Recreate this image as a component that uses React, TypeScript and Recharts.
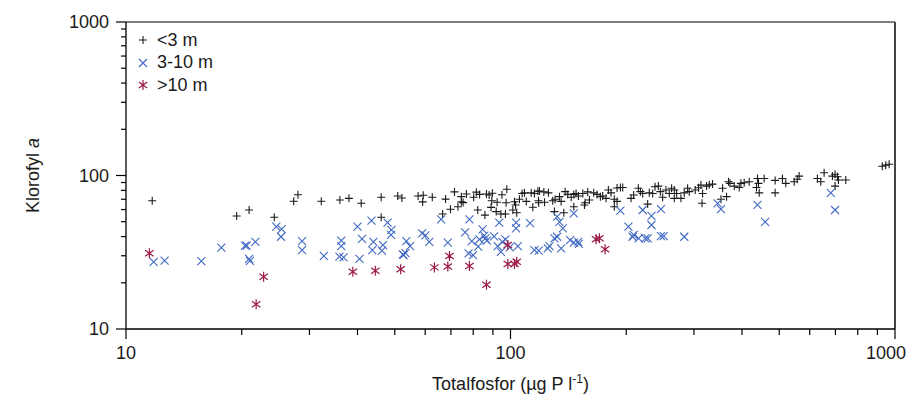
import { ScatterChart, Scatter, XAxis, YAxis, ReferenceLine, Label } from 'recharts';

// <3 m (black plus)
const shallowTP = [
    11.7, 19.4, 20.9, 24.3, 27.3, 28.0, 32.2, 36.0, 38.0, 40.9, 46.1, 46.1, 50.9, 52.2, 57.5, 59.3, 59.1, 62.6,
    67.8, 66.6, 69.8, 73.0, 71.5, 74.5, 74.5, 76.8, 75.3, 80.2, 81.5, 83.1, 86.6, 88.0, 89.7, 89.4, 92.3, 95.0,
    97.4, 97.8, 82.2, 85.8, 89.0, 91.8, 94.4, 97.0, 101.4, 103.1, 103.8, 102.4, 105.5, 107.2, 109.9, 108.7, 113.2,
    115.4, 117.8, 118.4, 114.3, 118.9, 122.1, 125.5, 118.2, 122.6, 128.8, 130.6, 134.1, 135.4, 138.7, 140.9, 143.8,
    146.1, 148.1, 150.2, 154.2, 156.3, 158.8, 160.4, 164.6, 167.9, 171.3, 173.7, 177.2, 179.7, 182.6, 189.3, 193.1,
    195.8, 186.2, 189.3, 186.2, 130.1, 137.6, 146.1, 155.7, 205.8, 209.1, 215.0, 217.7, 220.7, 227.4, 229.6, 234.3,
    237.6, 242.4, 245.3, 248.7, 253.7, 258.8, 262.4, 266.7, 270.4, 277.5, 266.7, 283.1, 288.8, 291.7, 302.3, 308.4,
    312.8, 315.9, 323.6, 328.8, 335.3, 314.8, 356.1, 369.0, 372.1, 381.9, 393.4, 397.4, 405.3, 417.7, 438.9, 441.6,
    436.3, 443.5, 456.8, 487.8, 487.8, 509.7, 520.0, 546.7, 563.2, 557.0, 364.7, 352.6, 628.3, 641.2, 654.1, 687.5,
    698.4, 708.5, 712.6, 744.7, 698.4, 926.8, 946.0, 965.6,
];
const shallowChl = [
    68.5, 54.5, 59.6, 53.4, 67.9, 75.0, 67.9, 69.2, 71.0, 65.9, 72.1, 53.4, 73.5, 71.3, 73.5, 74.4, 67.3, 72.1,
    70.2, 56.1, 60.3, 62.6, 78.2, 72.8, 67.5, 75.7, 66.6, 72.1, 77.9, 75.3, 75.8, 74.7, 76.7, 68.5, 67.0, 75.0,
    66.5, 81.3, 59.6, 55.2, 62.0, 58.2, 56.1, 56.1, 59.6, 64.3, 57.2, 67.4, 70.1, 76.4, 67.8, 77.1, 77.1,
    76.4, 78.9, 66.4, 62.1, 79.3, 78.2, 77.1, 68.5, 67.0, 68.5, 70.1, 72.8, 67.8, 78.5, 75.3, 72.1,
    75.3, 76.4, 73.5, 76.4, 66.4, 78.2, 69.2, 77.1, 75.3, 72.8, 73.5, 71.0, 80.5, 77.1, 82.9, 83.6,
    83.6, 70.1, 67.8, 62.6, 58.2, 57.2, 62.6, 64.3, 71.0, 74.6, 82.6, 78.5, 76.4, 65.1, 77.1, 76.4,
    84.4, 85.3, 78.5, 72.1, 80.5, 76.4, 82.6, 80.5, 76.4, 71.0, 71.0, 77.1, 82.6, 78.5, 80.5, 83.2,
    86.6, 76.4, 85.3, 86.9, 87.9, 65.9, 82.6, 91.0, 88.9, 85.3, 83.6, 88.9, 89.6, 91.0, 95.6, 88.9,
    83.6, 77.1, 95.6, 92.9, 77.1, 95.6, 88.9, 91.0, 99.1, 94.5, 72.8, 70.1, 95.6, 91.0, 104.1, 99.1,
    101.9, 98.1, 93.5, 93.5, 85.3, 115.0, 116.8, 118.5,
];

// 3-10 m (blue cross)
const midTP = [
    11.8, 12.6, 15.7, 17.7, 20.4, 20.6, 21.7, 20.9, 21.0, 24.6, 25.4, 25.3, 28.7, 28.7, 32.7, 36.3, 36.3, 35.9,
    36.8, 40.0, 41.1, 40.5, 43.5, 44.0, 43.7, 46.6, 46.3, 47.9, 49.0, 48.9, 52.5, 66.0, 78.2, 53.6, 54.8, 52.7,
    53.3, 58.9, 60.1, 61.5, 68.7, 76.2, 79.3, 77.8, 79.9, 83.0, 84.6, 86.0, 86.8, 82.4, 85.5, 90.6, 93.5, 92.6,
    95.3, 94.4, 97.0, 99.5, 104.5, 103.4, 103.4, 112.4, 115.4, 118.4, 146.1, 132.2, 134.1, 136.8, 130.1, 132.2,
    126.3, 125.0, 135.4, 142.9, 146.1, 149.9, 150.6, 193.1, 202.6, 209.1, 207.8, 215.4, 224.2, 227.4, 246.2, 250.3,
    220.7, 232.6, 232.6, 246.2, 283.1, 345.6, 352.6, 438.9, 459.5, 680.8, 698.4,
];
const midChl = [
    27.4, 27.9, 27.7, 33.9, 34.9, 34.9, 36.9, 28.6, 27.8, 46.4, 44.7, 39.9, 37.4, 32.7, 29.9, 37.6, 34.7, 29.6,
    29.3, 46.4, 38.6, 28.6, 50.8, 36.9, 32.7, 35.2, 32.4, 49.3, 44.3, 41.0, 30.6, 51.8, 51.8, 37.4, 34.7, 30.3,
    31.2, 42.0, 40.7, 37.0, 36.5, 42.6, 37.4, 31.1, 30.3, 38.4, 44.6, 39.0, 37.6, 34.4, 40.6, 40.1, 49.3, 34.7,
    37.0, 31.8, 38.4, 34.0, 34.7, 49.3, 45.3, 48.9, 32.7, 32.4, 56.7, 54.0, 49.9, 45.3, 39.0, 39.9,
    34.7, 33.5, 33.5, 37.9, 36.5, 37.0, 35.8, 59.0, 46.4, 41.0, 39.9, 39.0, 39.0, 39.0, 40.3, 40.3,
    59.6, 54.5, 47.6, 60.3, 39.9, 65.9, 60.3, 64.3, 49.9, 77.1, 59.6,
];

// >10 m (red asterisk)
const deepTP = [11.5, 22.8, 21.8, 38.9, 44.5, 51.8, 63.4, 68.7, 69.4, 78.2, 86.6, 98.4, 98.4, 102.4, 103.8, 166.9, 170.3, 176.2];
const deepChl = [31.1, 21.9, 14.5, 23.6, 24.0, 24.5, 25.2, 25.5, 29.9, 25.7, 19.4, 35.2, 26.5, 26.5, 27.4, 38.4, 39.0, 33.1];

const logTicks = [10, 20, 30, 40, 50, 60, 70, 80, 90, 100, 200, 300, 400, 500, 600, 700, 800, 900, 1000];
const majorTicks = [10, 100, 1000];

const FONT = '"Liberation Sans", Arial, sans-serif';
const BLACK = '#1a1a1a';
const BLUE = '#4169c4';
const RED = '#9c1848';

const toPoints = (tp: number[], chl: number[]) => tp.map((x, i) => ({ tp: x, chl: chl[i] }));

function PlusMark({ cx, cy }: any) {
    return <path d={`M${cx - 4},${cy}H${cx + 4}M${cx},${cy - 4}V${cy + 4}`} stroke={BLACK} strokeWidth={1.1} fill="none" />;
}

function CrossMark({ cx, cy }: any) {
    return <path d={`M${cx - 4},${cy - 4}L${cx + 4},${cy + 4}M${cx - 4},${cy + 4}L${cx + 4},${cy - 4}`} stroke={BLUE} strokeWidth={1.1} fill="none" />;
}

function StarMark({ cx, cy }: any) {
    return (
        <path
            d={`M${cx},${cy - 5}V${cy + 5}M${cx - 4.2},${cy - 3}L${cx + 4.2},${cy + 3}M${cx - 4.2},${cy + 3}L${cx + 4.2},${cy - 3}`}
            stroke={RED} strokeWidth={1.2} fill="none"
        />
    );
}

function XTick({ x, y, payload }: any) {
    const major = majorTicks.includes(payload.value);
    // the last label is pulled in so it stays inside the page
    const last = payload.value === 1000;
    return (
        <g>
            <line x1={x} x2={x} y1={y} y2={y + (major ? 10 : 6)} stroke="#000" strokeWidth={1.2} />
            {major && (
                <text x={last ? x + 11 : x} y={y + 30} textAnchor={last ? 'end' : 'middle'} fontSize={18} fontFamily={FONT} fill={BLACK}>
                    {payload.value}
                </text>
            )}
        </g>
    );
}

function YTick({ x, y, payload }: any) {
    const major = majorTicks.includes(payload.value);
    return (
        <g>
            <line x1={x} x2={x - (major ? 10 : 5)} y1={y} y2={y} stroke="#000" strokeWidth={1.2} />
            {major && (
                <text x={x - 17} y={y} dy="0.35em" textAnchor="end" fontSize={18} fontFamily={FONT} fill={BLACK}>
                    {payload.value}
                </text>
            )}
        </g>
    );
}

const legendRows = [
    { label: '<3 m', Mark: PlusMark },
    { label: '3-10 m', Mark: CrossMark },
    { label: '>10 m', Mark: StarMark },
];

export default function App() {
    return (
        <div style={{ position: 'relative', width: 914, height: 403, margin: '-8px 0 0 -8px' }}>
            <ScatterChart width={914} height={403} margin={{ top: 22, right: 19, bottom: 0, left: 0 }}>
                <XAxis
                    type="number"
                    dataKey="tp"
                    scale="log"
                    domain={[10, 1000]}
                    ticks={logTicks}
                    interval={0}
                    allowDataOverflow
                    height={74}
                    tickSize={0}
                    tickMargin={0}
                    tick={<XTick />}
                    axisLine={{ stroke: '#000', strokeWidth: 1.3 }}
                >
                    <Label
                        content={({ viewBox }: any) => (
                            <text x={viewBox.x + viewBox.width / 2} y={viewBox.y + 61} textAnchor="middle" fontSize={18} fontFamily={FONT} fill={BLACK}>
                                Totalfosfor (µg P l<tspan dy={-7} fontSize={12}>-1</tspan><tspan dy={7}>)</tspan>
                            </text>
                        )}
                    />
                </XAxis>
                <YAxis
                    type="number"
                    dataKey="chl"
                    scale="log"
                    domain={[10, 1000]}
                    ticks={logTicks}
                    interval={0}
                    allowDataOverflow
                    width={126}
                    tickSize={0}
                    tickMargin={0}
                    tick={<YTick />}
                    axisLine={{ stroke: '#000', strokeWidth: 1.3 }}
                >
                    <Label
                        content={({ viewBox }: any) => {
                            const cx = viewBox.x + 33;
                            const cy = viewBox.y + viewBox.height / 2;
                            return (
                                <text x={cx} y={cy} dy="0.35em" transform={`rotate(-90 ${cx} ${cy})`} textAnchor="middle" fontSize={18} fontFamily={FONT} fill={BLACK}>
                                    Klorofyl <tspan fontStyle="italic">a</tspan>
                                </text>
                            );
                        }}
                    />
                </YAxis>
                <ReferenceLine y={1000} stroke="#000" strokeWidth={1.2} ifOverflow="extendDomain" />
                <ReferenceLine x={1000} stroke="#444" strokeWidth={2} ifOverflow="extendDomain" />
                <Scatter data={toPoints(shallowTP, shallowChl)} shape={PlusMark} isAnimationActive={false} />
                <Scatter data={toPoints(midTP, midChl)} shape={CrossMark} isAnimationActive={false} />
                <Scatter data={toPoints(deepTP, deepChl)} shape={StarMark} isAnimationActive={false} />
            </ScatterChart>
            <div style={{ position: 'absolute', left: 135, top: 29, fontFamily: FONT, fontSize: 18, color: BLACK }}>
                {legendRows.map(({ label, Mark }) => (
                    <div key={label} style={{ display: 'flex', alignItems: 'center', height: 22.5 }}>
                        <svg width={16} height={14} style={{ marginRight: 6 }}>
                            <Mark cx={8} cy={7} />
                        </svg>
                        <span>{label}</span>
                    </div>
                ))}
            </div>
        </div>
    );
}
